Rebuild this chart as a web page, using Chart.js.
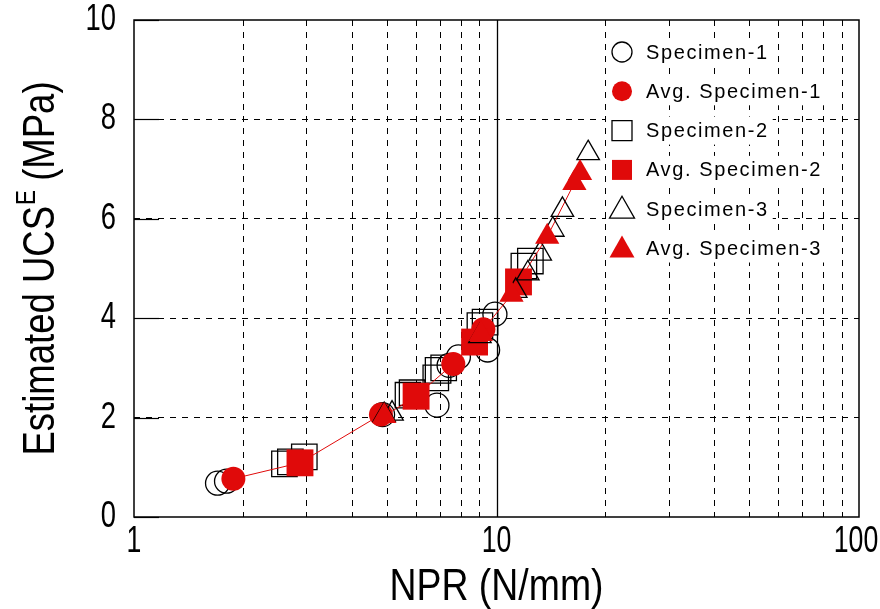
<!DOCTYPE html>
<html>
<head>
<meta charset="utf-8">
<script src="https://cdn.jsdelivr.net/npm/chart.js@4.4.0/dist/chart.umd.min.js"></script>
<style>
html, body { margin: 0; background: #fff; }
#wrap { width: 880px; height: 609px; }
</style>
</head>
<body>
<div id="wrap"><canvas id="ucsChart"></canvas></div>
<script>
// NPR (N/mm) vs estimated UCS (MPa), pairs of [x, y]
var spec1 = [[1.70, 0.68], [1.80, 0.72], [4.85, 2.06], [6.85, 2.25], [7.4, 3.05], [7.85, 3.22], [9.45, 3.36], [9.9, 4.08]];
var avgSpec1 = [[1.88, 0.77], [4.8, 2.06], [7.6, 3.08], [9.2, 3.78]];
var spec2 = [[2.6, 1.07], [2.7, 1.11], [2.95, 1.21], [5.7, 2.45], [5.85, 2.5], [6.8, 2.8], [6.9, 2.95], [7.15, 3.0], [9.0, 3.85], [9.3, 3.92], [11.9, 5.05], [12.4, 5.15]];
var avgSpec2 = [[2.87, 1.09], [6.0, 2.43], [8.7, 3.52], [11.5, 4.73]];
var spec3 = [[4.9, 2.05], [5.15, 2.08], [9.0, 3.64], [11.3, 4.55], [12.2, 4.9], [13.2, 5.3], [14.3, 5.78], [15.2, 6.18], [17.9, 7.32]];
var avgSpec3 = [[4.9, 2.03], [9.05, 3.68], [11.0, 4.47], [13.8, 5.64], [16.4, 6.72], [17.0, 6.92]];

var xTicks = [1, 2, 3, 4, 5, 6, 7, 8, 9, 10, 20, 30, 40, 50, 60, 70, 80, 90, 100];
var xLabels = [1, 10, 100];
var yTicks = [0, 2, 4, 6, 8, 10];

var RED = '#e00a0a';
var FONT = '"Liberation Sans", Arial, sans-serif';

function pts(arr) {
    return arr.map(function (p) { return { x: p[0], y: p[1] }; });
}

// red trend line through all averaged points
var avgLine = avgSpec1.concat(avgSpec2, avgSpec3).sort(function (a, b) { return a[0] - b[0]; });

// narrow text like the original plotting package
function narrowText(ctx, text, x, y, size, align, sx) {
    ctx.save();
    ctx.font = size + 'px ' + FONT;
    ctx.translate(x, y);
    ctx.scale(sx, 1);
    ctx.textAlign = align;
    ctx.fillText(text, 0, 0);
    ctx.restore();
}

function drawSymbol(ctx, kind, x, y, filled) {
    ctx.save();
    ctx.beginPath();
    if (kind === 'circle') {
        ctx.arc(x, y, 10, 0, Math.PI * 2);
    } else if (kind === 'rect') {
        ctx.rect(x - 10, y - 10, 20, 20);
    } else {
        ctx.moveTo(x, y - 13);
        ctx.lineTo(x + 12.5, y + 9);
        ctx.lineTo(x - 12.5, y + 9);
        ctx.closePath();
    }
    if (filled) {
        ctx.fillStyle = RED;
        ctx.fill();
    } else {
        ctx.strokeStyle = '#000';
        ctx.lineWidth = 1.3;
        ctx.stroke();
    }
    ctx.restore();
}

var legendRows = [
    { text: 'Specimen-1', kind: 'circle', filled: false },
    { text: 'Avg. Specimen-1', kind: 'circle', filled: true },
    { text: 'Specimen-2', kind: 'rect', filled: false },
    { text: 'Avg. Specimen-2', kind: 'rect', filled: true },
    { text: 'Specimen-3', kind: 'triangle', filled: false },
    { text: 'Avg. Specimen-3', kind: 'triangle', filled: true }
];

var framePlugin = {
    id: 'frame',
    beforeDatasetsDraw: function (chart) {
        var ctx = chart.ctx, a = chart.chartArea;
        var xs = chart.scales.x, ys = chart.scales.y;
        ctx.save();
        ctx.strokeStyle = '#000';
        ctx.lineWidth = 1.3;
        // solid decade line
        var x10 = Math.round(xs.getPixelForValue(10)) + 0.5;
        ctx.beginPath();
        ctx.moveTo(x10, a.top);
        ctx.lineTo(x10, a.bottom);
        ctx.stroke();
        // inward ticks on the value axis
        ctx.lineWidth = 1.2;
        yTicks.forEach(function (v) {
            var py = Math.round(ys.getPixelForValue(v)) + 0.5;
            ctx.beginPath();
            ctx.moveTo(a.left, py);
            ctx.lineTo(a.left + 25, py);
            ctx.stroke();
        });
        ctx.lineWidth = 1.5;
        ctx.strokeRect(a.left, a.top, a.right - a.left, a.bottom - a.top);
        ctx.restore();
    },
    afterDraw: function (chart) {
        var ctx = chart.ctx, a = chart.chartArea;
        var xs = chart.scales.x, ys = chart.scales.y;
        ctx.save();
        ctx.fillStyle = '#000';
        ctx.textBaseline = 'middle';
        xLabels.forEach(function (v) {
            var px = xs.getPixelForValue(v);
            if (v === 100) px -= 3;
            narrowText(ctx, String(v), px, a.bottom + 25, 36, 'center', 0.74);
        });
        yTicks.forEach(function (v) {
            narrowText(ctx, String(v), a.left - 18, ys.getPixelForValue(v), 36, 'right', 0.76);
        });

        // axis titles
        ctx.textBaseline = 'alphabetic';
        narrowText(ctx, 'NPR (N/mm)', (a.left + a.right) / 2, 600, 44, 'center', 0.85);

        ctx.save();
        ctx.translate(54, (a.top + a.bottom) / 2);
        ctx.rotate(-Math.PI / 2);
        ctx.scale(0.83, 1);
        ctx.font = '44px ' + FONT;
        var p1 = 'Estimated UCS', p3 = ' (MPa)';
        var w1 = ctx.measureText(p1).width, w3 = ctx.measureText(p3).width;
        ctx.font = '27px ' + FONT;
        var w2 = ctx.measureText('E').width;
        var x0 = -(w1 + w2 + w3) / 2;
        ctx.textAlign = 'left';
        ctx.font = '44px ' + FONT;
        ctx.fillText(p1, x0, 0);
        ctx.font = '27px ' + FONT;
        ctx.fillText('E', x0 + w1 + 1, -19);
        ctx.font = '44px ' + FONT;
        ctx.fillText(p3, x0 + w1 + w2, 0);
        ctx.restore();

        // legend
        ctx.font = '20px ' + FONT;
        ctx.letterSpacing = '1.6px';
        ctx.textBaseline = 'middle';
        ctx.textAlign = 'left';
        legendRows.forEach(function (row, i) {
            var cy = 52 + i * 39.3;
            var tw = ctx.measureText(row.text).width;
            ctx.fillStyle = '#fff';
            ctx.fillRect(606, cy - 14, 646 + tw - 606 + 4, 28);
            drawSymbol(ctx, row.kind, 622, cy, row.filled);
            ctx.fillStyle = '#000';
            ctx.fillText(row.text, 646, cy + 1);
        });
        ctx.restore();
    }
};

function gridColor(c) {
    if (c.tick && (c.tick.value === 1 || c.tick.value === 100 || c.tick.value === 10 || c.tick.value === 0)) {
        return 'rgba(0,0,0,0)';
    }
    return '#000';
}

var ctxUcs = document.getElementById('ucsChart').getContext('2d');
var ucsChart = new Chart(ctxUcs, {
    type: 'scatter',
    data: {
        datasets: [
            {
                label: 'Avg. Specimen-3',
                data: pts(avgSpec3),
                pointStyle: 'triangle',
                pointRadius: 14,
                backgroundColor: RED,
                borderColor: RED,
                borderWidth: 0,
                order: 1
            },
            {
                label: 'Specimen-3',
                data: pts(spec3),
                pointStyle: 'triangle',
                pointRadius: 13,
                backgroundColor: 'rgba(0,0,0,0)',
                borderColor: '#000',
                borderWidth: 1.3,
                order: 2
            },
            {
                label: 'Avg. Specimen-2',
                data: pts(avgSpec2),
                pointStyle: 'rect',
                pointRadius: 19,
                backgroundColor: RED,
                borderColor: RED,
                borderWidth: 0,
                order: 3
            },
            {
                label: 'Avg. Specimen-1',
                data: pts(avgSpec1),
                pointStyle: 'circle',
                pointRadius: 12,
                backgroundColor: RED,
                borderColor: RED,
                borderWidth: 0,
                order: 4
            },
            {
                label: 'trend',
                data: pts(avgLine),
                showLine: true,
                pointRadius: 0,
                borderColor: RED,
                borderWidth: 1,
                fill: false,
                order: 5
            },
            {
                label: 'Specimen-2',
                data: pts(spec2),
                pointStyle: 'rect',
                pointRadius: 18,
                backgroundColor: 'rgba(0,0,0,0)',
                borderColor: '#000',
                borderWidth: 1.3,
                order: 6
            },
            {
                label: 'Specimen-1',
                data: pts(spec1),
                pointStyle: 'circle',
                pointRadius: 12,
                backgroundColor: 'rgba(0,0,0,0)',
                borderColor: '#000',
                borderWidth: 1.3,
                order: 7
            }
        ]
    },
    options: {
        responsive: true,
        maintainAspectRatio: false,
        animation: false,
        events: [],
        layout: { padding: { top: 20, right: 21, left: 0, bottom: 0 } },
        plugins: {
            legend: { display: false },
            tooltip: { enabled: false }
        },
        scales: {
            x: {
                type: 'logarithmic',
                min: 1,
                max: 100,
                afterBuildTicks: function (scale) {
                    scale.ticks = xTicks.map(function (v) { return { value: v }; });
                },
                afterFit: function (scale) { scale.height = 92; },
                ticks: { display: false },
                border: { display: false, dash: [6, 6] },
                grid: { color: gridColor, lineWidth: 1, drawTicks: false }
            },
            y: {
                min: 0,
                max: 10,
                afterBuildTicks: function (scale) {
                    scale.ticks = yTicks.map(function (v) { return { value: v }; });
                },
                afterFit: function (scale) { scale.width = 134; },
                ticks: { display: false },
                border: { display: false, dash: [6, 6] },
                grid: { color: gridColor, lineWidth: 1, drawTicks: false }
            }
        }
    },
    plugins: [framePlugin]
});
</script>
</body>
</html>
